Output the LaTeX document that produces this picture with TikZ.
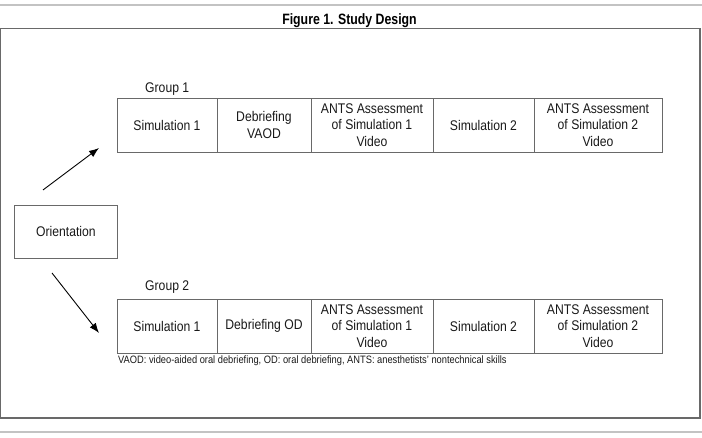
\documentclass[tikz,border=0pt]{standalone}
\usepackage{fontspec}
\setmainfont{Liberation Sans}[FakeStretch=0.87]
\newfontfamily\titlefont{Liberation Sans}[FakeStretch=0.82]
\usetikzlibrary{positioning, arrows.meta}
\definecolor{edge}{RGB}{105, 105, 105}
\definecolor{rule}{RGB}{195, 195, 195}
\definecolor{ink}{RGB}{25, 25, 25}
\newcommand*{\rowh}{54}

\begin{document}
\begin{tikzpicture}[
   x=1pt, y=-1pt,
   cell/.style={rectangle, draw=edge, line width=0.9, text=ink, align=center,
                inner sep=1, outer sep=0, minimum height=\rowh,
                font=\fontsize{14}{16.7}\selectfont},
   startbox/.style={rectangle, draw=edge, line width=0.9, text=ink,
                    inner sep=1, minimum height=53, minimum width=103,
                    font=\fontsize{14}{16.7}\selectfont},
   grouplab/.style={text=ink, inner sep=0, anchor=west,
                    font=\fontsize{14}{16.7}\selectfont},
   notetext/.style={text=ink, inner sep=0, anchor=north west,
                    font=\fontsize{10.7}{12}\selectfont},
   arr/.style={-{Latex[length=10, width=7.5]}, line width=0.9, color=black}
  ]

  \useasboundingbox (0, 0) rectangle (702, 438);

  % Frame
  \draw[rule, line width=1.5] (0, 5) -- (702, 5);
  \draw[edge, line width=1.2] (0.6, 28.5) rectangle (700, 418);
  \draw[rule, line width=1.5] (0, 432) -- (702, 432);

  \node (title) at (349.5, 25) [anchor=base, inner sep=0]
    {\titlefont\bfseries\fontsize{15}{17}\selectfont Figure 1. Study Design};

  \node (orient) at (14, 205) [startbox, anchor=north west] {Orientation};

  % Group 1
  \node (lab1) at (145, 89) [grouplab] {Group 1};
  \node (a1) at (117, 98) [cell, anchor=north west, minimum width=100] {Simulation 1};
  \node (a2) [cell, right=0pt of a1, minimum width=94] {Debriefing\\VAOD};
  \node (a3) [cell, right=0pt of a2, minimum width=122] {ANTS Assessment\\of Simulation 1\\Video};
  \node (a4) [cell, right=0pt of a3, minimum width=101] {Simulation 2};
  \node (a5) [cell, right=0pt of a4, minimum width=128] {ANTS Assessment\\of Simulation 2\\Video};

  % Group 2
  \node (lab2) at (145, 287) [grouplab] {Group 2};
  \node (b1) at (117, 299) [cell, anchor=north west, minimum width=100] {Simulation 1};
  \node (b2) [cell, right=0pt of b1, minimum width=94] {Debriefing OD};
  \node (b3) [cell, right=0pt of b2, minimum width=122] {ANTS Assessment\\of Simulation 1\\Video};
  \node (b4) [cell, right=0pt of b3, minimum width=101] {Simulation 2};
  \node (b5) [cell, right=0pt of b4, minimum width=128] {ANTS Assessment\\of Simulation 2\\Video};

  \node (note) at ([xshift=1, yshift=-3]b1.south west) [notetext]
    {VAOD: video-aided oral debriefing, OD: oral debriefing, ANTS: anesthetists' nontechnical skills};

  % Arrows
  \coordinate (up0) at (43, 190);
  \coordinate (up1) at (99, 148);
  \coordinate (dn0) at (52, 273);
  \coordinate (dn1) at (99, 333);

  \foreach \B/\E in {up0/up1, dn0/dn1} {
    \draw[arr] (\B) -- (\E);
  }

\end{tikzpicture}
\end{document}
